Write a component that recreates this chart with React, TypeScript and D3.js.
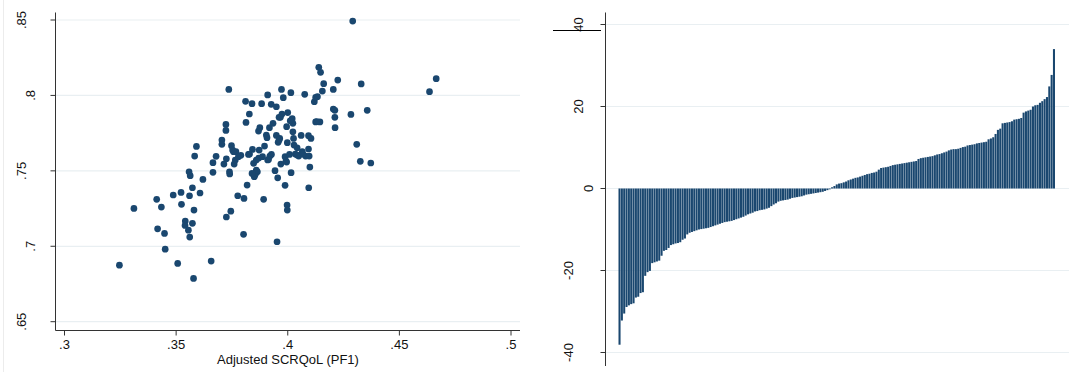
import React from "react";
import * as d3 from "d3";

// ---- Data ----
const scatterX: number[] = [
  0.3246, 0.3311, 0.3413, 0.3434, 0.3417, 0.3448, 0.3451, 0.3487, 0.3507, 0.3522,
  0.3524, 0.3558, 0.3563, 0.356, 0.3573, 0.3541, 0.354, 0.3555, 0.3573, 0.3561,
  0.358, 0.3578, 0.3583, 0.3591, 0.3607, 0.362, 0.3657, 0.3665, 0.3665, 0.3679,
  0.3705, 0.3705, 0.3714, 0.3725, 0.3725, 0.3723, 0.3723, 0.3736, 0.3739, 0.374,
  0.3745, 0.3748, 0.3753, 0.376, 0.3765, 0.3768, 0.3776, 0.3779, 0.379, 0.3804,
  0.3802, 0.3811, 0.3813, 0.3818, 0.3824, 0.3828, 0.384, 0.3842, 0.3847, 0.385,
  0.3856, 0.3859, 0.3864, 0.3869, 0.3872, 0.3875, 0.387, 0.3883, 0.3892, 0.3896,
  0.3904, 0.3907, 0.391, 0.391, 0.3918, 0.392, 0.3927, 0.3926, 0.3934, 0.3943,
  0.3949, 0.3952, 0.3955, 0.3957, 0.3961, 0.3964, 0.3969, 0.3972, 0.3974, 0.398,
  0.3988, 0.3988, 0.3995, 0.3997, 0.3998, 0.4, 0.3998, 0.3995, 0.4008, 0.4014,
  0.4015, 0.402, 0.4023, 0.4023, 0.4026, 0.4034, 0.4042, 0.4049, 0.406, 0.4065,
  0.4076, 0.408, 0.4093, 0.4093, 0.4094, 0.4096, 0.4099, 0.4119, 0.4125, 0.4133,
  0.4125, 0.4144, 0.4139, 0.4147, 0.4155, 0.4161, 0.4204, 0.4204, 0.4211, 0.4211,
  0.4212, 0.4224, 0.4283, 0.4291, 0.4309, 0.4325, 0.4329, 0.4356, 0.4372, 0.4635,
  0.4665, 0.3757, 0.3853, 0.3859, 0.3914, 0.3949, 0.3967, 0.4011, 0.4028, 0.4042,
  0.4068, 0.4104, 0.3961, 0.3887, 0.3829, 0.413, 0.3992, 0.384,
];
const scatterY: number[] = [
  0.6875, 0.7251, 0.7311, 0.726, 0.7116, 0.7085, 0.6981, 0.734, 0.6886, 0.7357,
  0.7278, 0.7494, 0.7468, 0.7335, 0.7388, 0.7167, 0.7138, 0.7107, 0.7152, 0.7061,
  0.724, 0.6787, 0.7598, 0.7662, 0.7353, 0.7443, 0.6902, 0.749, 0.7554, 0.7596,
  0.7704, 0.7676, 0.7545, 0.7194, 0.758, 0.7768, 0.7808, 0.804, 0.7494, 0.7479,
  0.7233, 0.7667, 0.7638, 0.7545, 0.7572, 0.7627, 0.7335, 0.7594, 0.7603, 0.7317,
  0.7079, 0.7961, 0.7821, 0.7406, 0.7609, 0.7877, 0.7945, 0.7642, 0.755, 0.7461,
  0.7483, 0.7572, 0.7494, 0.7764, 0.7638, 0.7786, 0.7585, 0.7945, 0.7311, 0.7664,
  0.7737, 0.772, 0.8003, 0.7572, 0.7786, 0.7598, 0.7609, 0.7941, 0.7815, 0.7501,
  0.7925, 0.703, 0.7454, 0.7689, 0.7855, 0.7715, 0.7545, 0.804, 0.7877, 0.7985,
  0.7404, 0.7594, 0.7558, 0.7273, 0.724, 0.7886, 0.7687, 0.7793, 0.7609, 0.8018,
  0.7488, 0.7846, 0.7815, 0.7759, 0.7715, 0.7611, 0.7653, 0.7598, 0.7735, 0.7627,
  0.8007, 0.7598, 0.7733, 0.7645, 0.7388, 0.7598, 0.7525, 0.7958, 0.7987, 0.7992,
  0.7824, 0.7824, 0.8186, 0.8153, 0.8029, 0.8078, 0.804, 0.791, 0.7901, 0.7855,
  0.7786, 0.8102, 0.7874, 0.8493, 0.7676, 0.7563, 0.8076, 0.7901, 0.7552, 0.8025,
  0.8111, 0.7627, 0.7472, 0.7505, 0.7576, 0.7735, 0.7855, 0.7832, 0.7671, 0.7605,
  0.7611, 0.7715, 0.7704, 0.7594, 0.7611, 0.7826, 0.7565, 0.7483,
];

const barValues: number[] = [
  -38.1, -32.2, -30.5, -28.9, -28.5, -28.2, -28.0, -26.6, -26.4, -25.5,
  -25.3, -21.3, -20.4, -20.1, -18.2, -18.0, -17.8, -17.6, -16.4, -15.2,
  -15.0, -14.5, -13.8, -13.6, -13.4, -13.3, -13.1, -12.5, -12.2, -11.2,
  -10.8, -10.6, -10.4, -10.2, -10.0, -9.9, -9.8, -9.7, -9.6, -9.4,
  -9.2, -9.0, -8.8, -8.6, -8.4, -8.2, -8.1, -8.0, -7.9, -7.7,
  -7.5, -7.3, -7.1, -6.9, -6.6, -6.3, -6.1, -5.9, -5.6, -5.5,
  -5.3, -5.2, -5.1, -4.9, -4.7, -4.3, -3.9, -3.6, -3.2, -3.0,
  -2.9, -2.8, -2.7, -2.5, -2.3, -2.2, -2.1, -2.0, -1.9, -1.7,
  -1.5, -1.4, -1.3, -1.2, -1.1, -1.0, -0.9, -0.8, -0.6, -0.4,
  -0.2, 0.3, 0.6, 1.0, 1.2, 1.3, 1.5, 1.7, 2.0, 2.2,
  2.4, 2.6, 2.7, 2.9, 3.1, 3.3, 3.5, 3.6, 3.8, 3.9,
  4.1, 4.6, 5.0, 5.1, 5.2, 5.3, 5.5, 5.7, 5.8, 5.9,
  6.0, 6.1, 6.2, 6.3, 6.4, 6.5, 6.6, 6.7, 7.2, 7.4,
  7.5, 7.6, 7.7, 7.8, 7.9, 8.1, 8.3, 8.4, 8.6, 8.8,
  9.0, 9.3, 9.5, 9.6, 9.6, 9.7, 9.9, 10.1, 10.2, 10.5,
  10.6, 10.7, 10.8, 11.0, 11.1, 11.2, 11.3, 11.4, 12.0, 12.2,
  12.5, 13.3, 14.3, 14.6, 15.9, 16.0, 16.1, 16.2, 16.4, 16.8,
  16.9, 17.0, 17.2, 18.5, 18.8, 19.0, 19.2, 20.0, 20.3, 20.4,
  20.9, 21.3, 21.8, 22.3, 24.9, 27.7, 34.0,
];

const leftXTicks: number[] = [0.3, 0.35, 0.4, 0.45, 0.5];
const leftXTickLabels: string[] = [".3", ".35", ".4", ".45", ".5"];
const leftYTicks: number[] = [0.65, 0.7, 0.75, 0.8, 0.85];
const leftYTickLabels: string[] = [".65", ".7", ".75", ".8", ".85"];
const rightYTicks: number[] = [-40, -20, 0, 20, 40];
const rightYTickLabels: string[] = ["-40", "-20", "0", "20", "40"];
const xTitle = "Adjusted SCRQoL (PF1)";

const NAVY = "#1a476f";
const GRID = "#e9eff2";
const AXIS = "#333333";
const FONT = "'Liberation Sans', Arial, Helvetica, sans-serif";

export default function App() {
  const W = 1069;
  const H = 372;

  // Left panel scales
  const xL = d3.scaleLinear().domain([0.3, 0.5]).range([64.5, 511]);
  const yL = d3.scaleLinear().domain([0.65, 0.85]).range([321.7, 20]);
  const leftAxisX = 55.5;
  const leftAxisBottom = 330.5;
  const leftPlotRight = 520;

  // Right panel scales
  const yR = d3.scaleLinear().domain([-40, 40]).range([352.5, 24.5]);
  const xR = d3
    .scaleBand<number>()
    .domain(barValues.map((_, i) => i))
    .range([618.5, 1055])
    .paddingInner(0.12)
    .paddingOuter(0);
  const rightAxisX = 605.5;

  const leftLabelCenter = (s: string) => 47 - 8.5 * s.length;
  const rightLabelCenter = (s: string) => 598 - 10 * s.length;

  return (
    <svg
      width={W}
      height={H}
      style={{ position: "absolute", left: 0, top: 0, background: "#fff" }}
      fontFamily={FONT}
    >
      <rect x={0} y={0} width={W} height={H} fill="#fff" />
      <line x1={3.5} x2={3.5} y1={0} y2={H} stroke="#ececec" strokeWidth={1} />

      {/* ---------- Left panel ---------- */}
      {leftYTicks.map((t) => (
        <line
          key={"gl" + t}
          x1={leftAxisX}
          x2={leftPlotRight}
          y1={yL(t)}
          y2={yL(t)}
          stroke={GRID}
          strokeWidth={1.2}
        />
      ))}
      {scatterX.map((x, i) => (
        <circle key={"p" + i} cx={xL(x)} cy={yL(scatterY[i])} r={3.35} fill={NAVY} />
      ))}
      <line x1={leftAxisX} x2={leftAxisX} y1={12.5} y2={leftAxisBottom} stroke={AXIS} strokeWidth={1} />
      <line x1={leftAxisX} x2={leftPlotRight} y1={leftAxisBottom} y2={leftAxisBottom} stroke={AXIS} strokeWidth={1} />
      {leftYTicks.map((t, i) => {
        const y = yL(t);
        const lab = leftYTickLabels[i];
        const cx = leftLabelCenter(lab);
        return (
          <g key={"ly" + t}>
            <line x1={leftAxisX - 5} x2={leftAxisX} y1={y} y2={y} stroke={AXIS} strokeWidth={1} />
            <text
              transform={`translate(${cx + 4.6},${y}) rotate(-90)`}
              textAnchor="middle"
              fontSize={13}
              fill="#111"
            >
              {lab}
            </text>
          </g>
        );
      })}
      {leftXTicks.map((t, i) => {
        const x = xL(t);
        return (
          <g key={"lx" + t}>
            <line x1={x} x2={x} y1={leftAxisBottom} y2={leftAxisBottom + 5} stroke={AXIS} strokeWidth={1} />
            <text x={x} y={349} textAnchor="middle" fontSize={13} fill="#111">
              {leftXTickLabels[i]}
            </text>
          </g>
        );
      })}
      <text x={288} y={363.5} textAnchor="middle" fontSize={13} fill="#111">
        {xTitle}
      </text>

      {/* ---------- Right panel ---------- */}
      {rightYTicks.map((t) => (
        <line
          key={"gr" + t}
          x1={rightAxisX}
          x2={W}
          y1={yR(t)}
          y2={yR(t)}
          stroke={GRID}
          strokeWidth={1.2}
        />
      ))}
      {barValues.map((v, i) => {
        const y0 = yR(0);
        const y1 = yR(v);
        return (
          <rect
            key={"b" + i}
            x={xR(i)!}
            width={xR.bandwidth()}
            y={Math.min(y0, y1)}
            height={Math.abs(y1 - y0)}
            fill={NAVY}
          />
        );
      })}
      <line x1={rightAxisX} x2={rightAxisX} y1={12.5} y2={366} stroke={AXIS} strokeWidth={1} />
      {rightYTicks.map((t, i) => {
        const y = yR(t);
        const lab = rightYTickLabels[i];
        const cx = rightLabelCenter(lab);
        return (
          <g key={"ry" + t}>
            <line x1={rightAxisX - 5} x2={rightAxisX} y1={y} y2={y} stroke={AXIS} strokeWidth={1} />
            <text
              transform={`translate(${cx + 4.6},${y}) rotate(-90)`}
              textAnchor="middle"
              fontSize={13}
              fill="#111"
            >
              {lab}
            </text>
          </g>
        );
      })}
      <line x1={553} x2={601} y1={30.5} y2={30.5} stroke="#000" strokeWidth={1} />
    </svg>
  );
}
